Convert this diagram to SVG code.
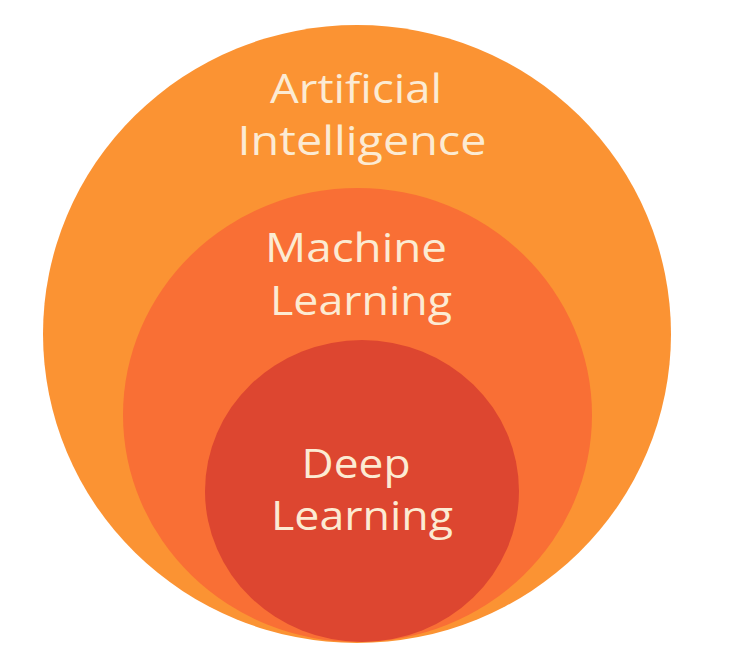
<svg xmlns="http://www.w3.org/2000/svg" width="730" height="657" viewBox="0 0 730 657">
<style>
.lbl{font-family:"Open Sans","Noto Sans","DejaVu Sans",sans-serif;font-size:40px;fill:#FCEBD3;text-anchor:middle;}
</style>
<rect width="730" height="657" fill="#ffffff"/>
<g id="ai">
<ellipse cx="357" cy="334" rx="314" ry="309" fill="#FB9333"/>
<text class="lbl" x="356" y="103" textLength="172" lengthAdjust="spacingAndGlyphs">Artificial</text>
<text class="lbl" x="362" y="155" textLength="249" lengthAdjust="spacingAndGlyphs">Intelligence</text>
</g>
<g id="ml">
<ellipse cx="357.5" cy="415" rx="234.5" ry="227" fill="#F96F35"/>
<text class="lbl" x="356" y="262" textLength="182" lengthAdjust="spacingAndGlyphs">Machine</text>
<text class="lbl" x="361" y="315" textLength="182" lengthAdjust="spacingAndGlyphs">Learning</text>
</g>
<g id="dl">
<ellipse cx="362" cy="491" rx="157" ry="151" fill="#DD4630"/>
<text class="lbl" x="356" y="478" textLength="109" lengthAdjust="spacingAndGlyphs">Deep</text>
<text class="lbl" x="362" y="530" textLength="182" lengthAdjust="spacingAndGlyphs">Learning</text>
</g>
<g id="connectors"/>
</svg>
